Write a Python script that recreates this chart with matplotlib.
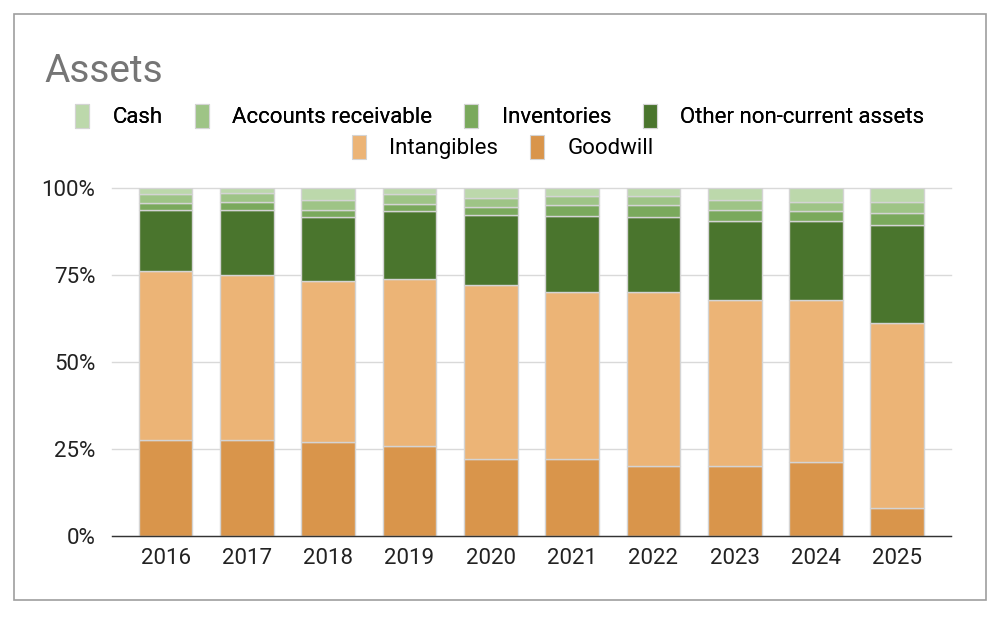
import matplotlib
matplotlib.use("Agg")
import matplotlib.pyplot as plt
from matplotlib.patches import Rectangle, Patch
import numpy as np

plt.rcParams['font.family'] = ['Roboto', 'DejaVu Sans']

years = ['2016', '2017', '2018', '2019', '2020', '2021', '2022', '2023', '2024', '2025']
goodwill = [27.6, 27.5, 27.0, 26.0, 22.2, 22.2, 20.0, 20.0, 21.2, 8.0]
intangibles = [48.5, 47.4, 46.3, 47.8, 50.0, 47.8, 50.0, 47.9, 46.7, 53.3]
other_noncurrent = [17.7, 18.9, 18.3, 19.6, 20.1, 22.1, 21.6, 22.6, 22.6, 28.1]
inventories = [1.9, 2.3, 2.2, 2.1, 2.2, 2.9, 3.4, 3.3, 2.9, 3.4]
receivables = [2.7, 2.6, 2.9, 2.9, 2.6, 2.6, 2.6, 2.8, 2.6, 3.2]
cash = [1.6, 1.3, 3.3, 1.6, 2.9, 2.4, 2.4, 3.4, 4.0, 4.0]

series = [
    ('Goodwill', goodwill, '#d9954b'),
    ('Intangibles', intangibles, '#ecb476'),
    ('Other non-current assets', other_noncurrent, '#4a752d'),
    ('Inventories', inventories, '#7aa95c'),
    ('Accounts receivable', receivables, '#9ec486'),
    ('Cash', cash, '#bcd8ab'),
]

data = np.array([s[1] for s in series], dtype=float)
data = data / data.sum(axis=0) * 100.0

fig = plt.figure(figsize=(10.06, 6.18), dpi=100)
ax = fig.add_axes([0.1113, 0.1327, 0.834, 0.5630])

x = np.arange(len(years))
bottom = np.zeros(len(years))
handles = {}
for (name, _, color), vals in zip(series, data):
    ax.bar(x, vals, bottom=bottom, width=0.66, color=color,
           edgecolor='#d4d4d4', linewidth=1.0, zorder=3, label=name)
    handles[name] = Patch(facecolor=color, edgecolor='#d4d4d4', linewidth=0.8)
    bottom += vals

ax.set_xlim(-0.66, len(years) - 1 + 0.66)
ax.set_ylim(0, 100)
ax.set_yticks([0, 25, 50, 75, 100])
ax.set_yticklabels(['0%', '25%', '50%', '75%', '100%'])
ax.set_xticks(x)
ax.set_xticklabels(years)
for sp in ['top', 'right', 'left']:
    ax.spines[sp].set_visible(False)
ax.spines['bottom'].set_color('#333333')
ax.spines['bottom'].set_linewidth(1.0)
ax.spines['bottom'].set_zorder(4)
ax.yaxis.grid(True, color='#d9d9d9', linewidth=1.0, zorder=0)
for line in ax.yaxis.get_gridlines():
    line.set_clip_on(False)
ax.tick_params(axis='both', length=0, labelsize=16, colors='#222222')
ax.tick_params(axis='y', pad=12)
ax.tick_params(axis='x', pad=9)

fig.text(0.044, 0.884, 'Assets', fontsize=28, color='#757575', ha='left', va='center')

row1 = ['Cash', 'Accounts receivable', 'Inventories', 'Other non-current assets']
row2 = ['Intangibles', 'Goodwill']
kw = dict(loc='center', frameon=False, fontsize=16, handlelength=0.62, handleheight=1.3,
          handletextpad=1.05, columnspacing=1.45, borderpad=0)
leg1 = fig.legend([handles[n] for n in row1], row1, bbox_to_anchor=(0.497, 0.812), ncol=4, **kw)
fig.add_artist(leg1)
leg2 = fig.legend([handles[n] for n in row2], row2, bbox_to_anchor=(0.500, 0.762), ncol=2, **kw)

fig.patches.append(Rectangle((14 / 1006, 18 / 618), 972 / 1006, 586 / 618, transform=fig.transFigure,
                             fill=False, edgecolor='#9e9e9e', linewidth=1.2))

fig.savefig('out.png', dpi=100, facecolor='white')
